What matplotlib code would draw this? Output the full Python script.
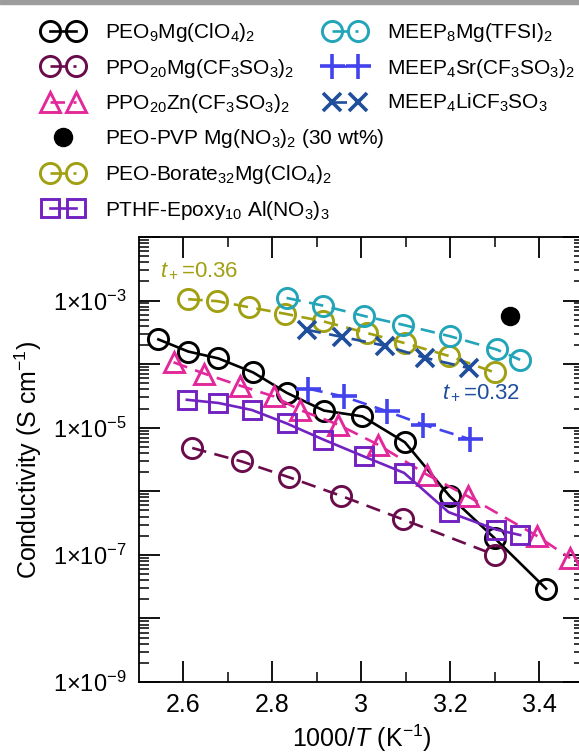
import math
import matplotlib
matplotlib.use('Agg')
import matplotlib.pyplot as plt
from matplotlib.ticker import FixedLocator, FuncFormatter, NullFormatter
from matplotlib.legend_handler import HandlerLine2D
from matplotlib.patches import Rectangle

plt.rcParams['font.family'] = ['Liberation Sans', 'DejaVu Sans']
plt.rcParams['mathtext.fontset'] = 'custom'
plt.rcParams['mathtext.rm'] = 'Liberation Sans'
plt.rcParams['mathtext.it'] = 'Liberation Sans:italic'
plt.rcParams['mathtext.bf'] = 'Liberation Sans:bold'

# data: 1000/T (K^-1) and conductivity (S/cm)
peo9_x = [2.544, 2.611, 2.679, 2.757, 2.832, 2.916, 3.002, 3.098, 3.199, 3.300, 3.415]
peo9_y = [2.45e-4, 1.58e-4, 1.23e-4, 7.4e-5, 3.55e-5, 1.86e-5, 1.51e-5, 5.9e-6, 8.3e-7, 1.82e-7, 2.95e-8]

ppo_mg_x = [2.620, 2.731, 2.838, 2.954, 3.094, 3.300]
ppo_mg_y = [4.8e-6, 2.95e-6, 1.66e-6, 8.5e-7, 3.6e-7, 1.0e-7]

ppo_zn_x = [2.578, 2.647, 2.727, 2.804, 2.862, 2.948, 3.038, 3.148, 3.240, 3.394, 3.469]
ppo_zn_y = [1.07e-4, 7.1e-5, 4.6e-5, 3.1e-5, 1.9e-5, 1.12e-5, 5.4e-6, 1.82e-6, 8.3e-7, 2.0e-7, 8.9e-8]

meep8_x = [2.832, 2.915, 3.005, 3.093, 3.199, 3.304, 3.357]
meep8_y = [1.10e-3, 8.3e-4, 5.75e-4, 4.17e-4, 2.75e-4, 1.70e-4, 1.17e-4]

meep_sr_x = [2.881, 2.960, 3.057, 3.139, 3.244]
meep_sr_y = [4.1e-5, 3.1e-5, 1.82e-5, 1.12e-5, 6.6e-6]

meep_li_x = [2.877, 2.956, 3.053, 3.143, 3.241]
meep_li_y = [3.47e-4, 2.69e-4, 1.95e-4, 1.26e-4, 8.7e-5]

pvp_x = [3.334]
pvp_y = [5.8e-4]

borate_x = [2.611, 2.676, 2.748, 2.829, 2.915, 3.012, 3.098, 3.196, 3.300]
borate_y = [1.05e-3, 9.8e-4, 7.85e-4, 6.2e-4, 4.7e-4, 3.1e-4, 2.14e-4, 1.35e-4, 7.4e-5]

pthf_x = [2.608, 2.679, 2.754, 2.832, 2.915, 3.005, 3.096, 3.196, 3.303, 3.357]
pthf_y = [2.75e-5, 2.45e-5, 1.9e-5, 1.17e-5, 6.5e-6, 3.55e-6, 1.95e-6, 4.7e-7, 2.5e-7, 2.05e-7]

x_major = [2.6, 2.8, 3.0, 3.2, 3.4]
x_minor = [2.7, 2.9, 3.1, 3.3]
decades = list(range(-9, -1))

black = '#000000'
maroon = '#6a0c4c'
magenta = '#e2289a'
teal = '#22a5b8'
blue = '#4343ee'
navy = '#1f4e9c'
olive = '#a0a012'
purple = '#7322c2'

fig = plt.figure(figsize=(5.79, 7.56), dpi=100)
fig.patches.append(Rectangle((0, 1 - 4 / 756), 1, 4 / 756, transform=fig.transFigure,
                             color='#9c9c9c', zorder=0))

ax = fig.add_axes([138.8 / 579, 74 / 756, 445 / 579, 445 / 756])

lw = 1.9
dash = (5.5, 3.2)
ms = 14.5
mew = 2.1

l1, = ax.plot(peo9_x, peo9_y, '-', color=black, lw=lw, marker='o', ms=ms, mew=mew,
              fillstyle='none', label='PEO$_9$Mg(ClO$_4$)$_2$')
l2, = ax.plot(ppo_mg_x, ppo_mg_y, '--', dashes=dash, color=maroon, lw=lw, marker='o', ms=ms,
              mew=mew, fillstyle='none', label='PPO$_{20}$Mg(CF$_3$SO$_3$)$_2$')
l3, = ax.plot(ppo_zn_x, ppo_zn_y, '--', dashes=dash, color=magenta, lw=lw, marker='^', ms=14,
              mew=mew, fillstyle='none', label='PPO$_{20}$Zn(CF$_3$SO$_3$)$_2$')
l4, = ax.plot(pvp_x, pvp_y, 'o', color=black, ms=13, label='PEO-PVP Mg(NO$_3$)$_2$ (30 wt%)')
l5, = ax.plot(borate_x, borate_y, '--', dashes=dash, color=olive, lw=lw, marker='o', ms=ms,
              mew=mew, fillstyle='none', label='PEO-Borate$_{32}$Mg(ClO$_4$)$_2$')
l6, = ax.plot(pthf_x, pthf_y, '-', color=purple, lw=lw, marker='s', ms=13, mew=mew,
              fillstyle='none', label='PTHF-Epoxy$_{10}$ Al(NO$_3$)$_3$')
r1, = ax.plot(meep8_x, meep8_y, '--', dashes=dash, color=teal, lw=lw, marker='o', ms=ms,
              mew=mew, fillstyle='none', label='MEEP$_8$Mg(TFSI)$_2$')
r2, = ax.plot(meep_sr_x, meep_sr_y, '--', dashes=dash, color=blue, lw=lw, marker='+', ms=18,
              mew=2.6, label='MEEP$_4$Sr(CF$_3$SO$_3$)$_2$')
r3, = ax.plot(meep_li_x, meep_li_y, '--', dashes=dash, color=navy, lw=lw, marker='x', ms=13,
              mew=2.6, label='MEEP$_4$LiCF$_3$SO$_3$')

ax.text(2.548, 2.9e-3, '$t_+$=0.36', color=olive, fontsize=16, va='center', ha='left')
ax.text(3.181, 3.5e-5, '$t_+$=0.32', color=navy, fontsize=16, va='center', ha='left')

ax.set_yscale('log')
ax.set_xlim(2.5, 3.5)
ax.set_ylim(1e-9, 1e-2)

ax.xaxis.set_major_locator(FixedLocator(x_major))
ax.xaxis.set_minor_locator(FixedLocator(x_minor))
ax.xaxis.set_major_formatter(FuncFormatter(lambda v, p: ('%g' % v)))
ax.yaxis.set_major_locator(FixedLocator([10.0 ** e for e in decades]))
ax.yaxis.set_minor_locator(FixedLocator([k * 10.0 ** e for e in decades[:-1] for k in range(2, 10)]))
ax.yaxis.set_minor_formatter(NullFormatter())


def ylab(v, pos):
    e = int(round(math.log10(v)))
    if e % 2 == 0:
        return ''
    return r'1$\times$10$^{%d}$' % e


ax.yaxis.set_major_formatter(FuncFormatter(ylab))
ax.tick_params(which='both', direction='in', top=True, right=True, width=1.3)
ax.tick_params(which='major', length=15)
ax.tick_params(which='minor', length=7.5, width=1.1)
ax.tick_params(axis='x', labelsize=18, pad=8)
ax.tick_params(axis='y', labelsize=17, pad=9)
for s in ax.spines.values():
    s.set_linewidth(1.3)

ax.set_xlabel('1000/$T$ (K$^{-1}$)', fontsize=18, labelpad=4)
ax.set_ylabel('Conductivity (S cm$^{-1}$)', fontsize=18, labelpad=6)

hmap = {l4: HandlerLine2D(numpoints=1)}
leg1 = fig.legend(handles=[l1, l2, l3, l4, l5, l6], loc='upper left', handler_map=hmap,
                  bbox_to_anchor=(44 / 579, 1 - 21 / 756), frameon=False, fontsize=15,
                  numpoints=2, handlelength=1.85, handletextpad=1.1, labelspacing=0.6,
                  borderpad=0, borderaxespad=0)
leg2 = fig.legend(handles=[r1, r2, r3], loc='upper left',
                  bbox_to_anchor=(326 / 579, 1 - 21 / 756), frameon=False, fontsize=15,
                  numpoints=2, handlelength=1.85, handletextpad=1.1, labelspacing=0.6,
                  borderpad=0, borderaxespad=0)

fig.savefig('out.png', dpi=100)
